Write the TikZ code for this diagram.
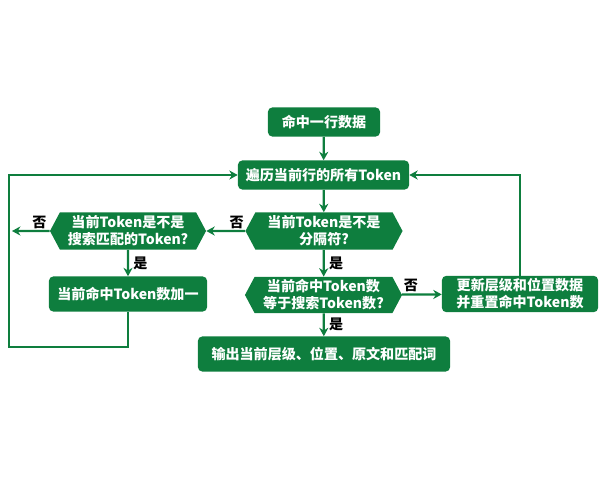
\documentclass[tikz,border=0pt]{standalone}
\usepackage{fontspec}
\setmainfont{Noto Sans CJK SC}
\usetikzlibrary{arrows.meta,shapes.symbols}
\definecolor{flowgreen}{RGB}{14,126,62}

\begin{document}
\begin{tikzpicture}[x=0.025cm,y=-0.025cm,>={Stealth[length=6pt,width=6.5pt]},font=\bfseries\fontsize{10}{12}\selectfont,
  box/.style={fill=flowgreen,text=white,rounded corners=3pt,align=center,inner sep=2pt},
  test/.style={signal,signal to=west and east,signal pointer angle=124,fill=flowgreen,text=white,align=center,inner sep=2pt},
  flow/.style={->,draw=flowgreen,line width=1.6pt},
  lbl/.style={text=black,inner sep=1pt}]
\useasboundingbox (0,0) rectangle (600,480);
% Steps and tests of the search.
\node[box,minimum width=2.8cm,minimum height=0.725cm] (hit) at (324,122) {命中一行数据};
\node[box,minimum width=4.275cm,minimum height=0.725cm] (walk) at (323.5,175) {遍历当前行的所有Token};
\node[test,minimum width=3.925cm,minimum height=0.925cm] (sep) at (324,231) {当前Token是不是\\分隔符?};
\node[test,minimum width=3.9cm,minimum height=0.925cm] (match) at (128,231) {当前Token是不是\\搜索匹配的Token?};
\node[box,minimum width=3.95cm,minimum height=0.875cm] (count) at (128,294) {当前命中Token数加一};
\node[test,minimum width=3.925cm,minimum height=0.9cm] (full) at (323.5,295) {当前命中Token数\\等于搜索Token数?};
\node[box,minimum width=3.9cm,minimum height=0.875cm] (reset) at (520,294) {更新层级和位置数据\\并重置命中Token数};
\node[box,minimum width=6.3cm,minimum height=0.875cm] (out) at (324,354) {输出当前层级、位置、原文和匹配词};
\coordinate (lend) at (12,231);
\coordinate (back) at (9,347);
% Connectors.
\draw[flow] (hit) -- (walk);
\draw[flow] (walk) -- (sep);
\draw[flow] (sep) -- node[lbl,above,pos=0.22]{否} (match);
\draw[flow] (match) -- node[lbl,above,pos=0.27]{否} (lend);
\draw[flow] (match) -- node[lbl,right=2pt]{是} (count);
\draw[flow] (count.south) |- (back) |- (walk.west);
\draw[flow] (sep) -- node[lbl,right=2pt]{是} (full);
\draw[flow] (full) -- node[lbl,above,pos=0.22]{否} (reset);
\draw[flow] (reset.north) |- (walk.east);
\draw[flow] (full) -- node[lbl,right=2pt]{是} (out);
\end{tikzpicture}
\end{document}
